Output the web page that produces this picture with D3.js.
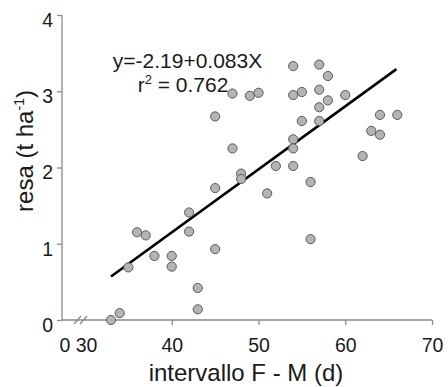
<!DOCTYPE html>
<html>
<head>
<meta charset="utf-8">
<script src="https://cdn.jsdelivr.net/npm/d3@7"></script>
<style>
  html, body { margin: 0; padding: 0; background: #fff; }
  svg { display: block; font-family: "Liberation Sans", Arial, sans-serif; }
</style>
</head>
<body>
<svg id="chart" width="448" height="387"></svg>
<script>
// ---- data ----
const xValues = [33, 34, 35, 36, 37, 38, 40, 40, 42, 42, 43, 43, 45, 45, 45, 47, 47, 48, 48, 49, 50, 51, 52,
                 54, 54, 54, 54, 54, 55, 55, 56, 56, 57, 57, 57, 57, 58, 58, 60, 62, 63, 64, 64, 66];
const yValues = [0.00, 0.09, 0.69, 1.15, 1.11, 0.84, 0.84, 0.70, 1.41, 1.16, 0.42, 0.14, 0.93, 1.73, 2.67, 2.97, 2.25, 1.92, 1.85, 2.94, 2.98, 1.66, 2.02,
                 3.33, 2.95, 2.37, 2.25, 2.02, 2.99, 2.61, 1.81, 1.06, 3.35, 3.02, 2.79, 2.61, 3.20, 2.88, 2.95, 2.15, 2.48, 2.69, 2.43, 2.69];
const fitX = [33, 65.9];
const fitY = [0.57, 3.29];
const xTickValues = [40, 50, 60, 70];
const xBreakLabels = ["0", "30"];
const yTickValues = [0, 1, 2, 3, 4];
const equationText = "y=-2.19+0.083X";
const r2Label = "0.762";
const xTitle = "intervallo F - M (d)";

// ---- layout ----
const svg = d3.select("#chart");
const axisLeftX = 62;
const x = d3.scaleLinear().domain([30, 70]).range([85, 432]);
const y = d3.scaleLinear().domain([0, 4]).range([320, 15]);
const axisColor = "#8a8a8a";
const textColor = "#1a1a1a";
const tickFont = 19.5;

// x axis line (with break)
svg.append("line")
  .attr("x1", axisLeftX).attr("x2", x(70))
  .attr("y1", y(0)).attr("y2", y(0))
  .attr("stroke", axisColor).attr("stroke-width", 1.3);

const xAxis = d3.axisBottom(x).tickValues(xTickValues).tickSize(5).tickPadding(13).tickFormat(d3.format("d"));
const gx = svg.append("g").attr("transform", `translate(0,${y(0)})`).call(xAxis);
gx.select(".domain").remove();
gx.selectAll(".tick line").attr("stroke", axisColor).attr("stroke-width", 1.3);
gx.selectAll(".tick text").attr("font-size", tickFont).attr("fill", textColor)
  .attr("font-family", "Liberation Sans, Arial, sans-serif");

// break labels "0" and "30"
svg.append("g").selectAll("text").data(xBreakLabels).join("text")
  .attr("x", (d, i) => i === 0 ? axisLeftX + 3 : x(30) + 1.5)
  .attr("y", 352)
  .attr("text-anchor", "middle")
  .attr("font-size", tickFont).attr("fill", textColor)
  .text(d => d);

// break marks //
const brk = svg.append("g").attr("stroke", axisColor).attr("stroke-width", 1.3);
[74, 80].forEach(bx => {
  brk.append("line").attr("x1", bx).attr("y1", y(0) + 4).attr("x2", bx + 7).attr("y2", y(0) - 4);
});

// y axis
const yAxis = d3.axisLeft(y).tickValues(yTickValues).tickSize(5).tickPadding(4).tickFormat(d3.format("d"));
const gy = svg.append("g").attr("transform", `translate(${axisLeftX},0)`).call(yAxis);
gy.select(".domain").attr("stroke", axisColor).attr("stroke-width", 1.3).attr("d", `M0,${y(4)}V${y(0)}`);
gy.selectAll(".tick line").attr("stroke", axisColor).attr("stroke-width", 1.3);
gy.selectAll(".tick text").attr("font-size", tickFont).attr("fill", textColor)
  .attr("font-family", "Liberation Sans, Arial, sans-serif")
  .attr("transform", "translate(0,5)");

// regression line
svg.append("line")
  .attr("x1", x(fitX[0])).attr("y1", y(fitY[0]))
  .attr("x2", x(fitX[1])).attr("y2", y(fitY[1]))
  .attr("stroke", "#000").attr("stroke-width", 2.6);

// points
const pts = xValues.map((v, i) => ({ x: v, y: yValues[i] }));
svg.append("g").selectAll("circle").data(pts).join("circle")
  .attr("cx", d => x(d.x)).attr("cy", d => y(d.y)).attr("r", 4.6)
  .attr("fill", "#b4b4b4").attr("stroke", "#5a5a5a").attr("stroke-width", 1);

// equation
svg.append("text").attr("x", 187.5).attr("y", 68).attr("text-anchor", "middle")
  .attr("font-size", 21).attr("fill", textColor).text(equationText);
const r2 = svg.append("text").attr("x", 183).attr("y", 92).attr("text-anchor", "middle")
  .attr("font-size", 21).attr("fill", textColor);
r2.append("tspan").text("r");
r2.append("tspan").attr("font-size", 13).attr("dy", -8).text("2");
r2.append("tspan").attr("dy", 8).text(" = " + r2Label);

// x title
svg.append("text").attr("x", 246).attr("y", 381).attr("text-anchor", "middle")
  .attr("font-size", 24).attr("fill", textColor).text(xTitle);

// y title
const yt = svg.append("text").attr("transform", "translate(33,151) rotate(-90)")
  .attr("text-anchor", "middle").attr("font-size", 24).attr("fill", textColor);
yt.append("tspan").text("resa (t ha");
yt.append("tspan").attr("font-size", 14).attr("dy", -9).text("-1");
yt.append("tspan").attr("dy", 9).text(")");
</script>
</body>
</html>
